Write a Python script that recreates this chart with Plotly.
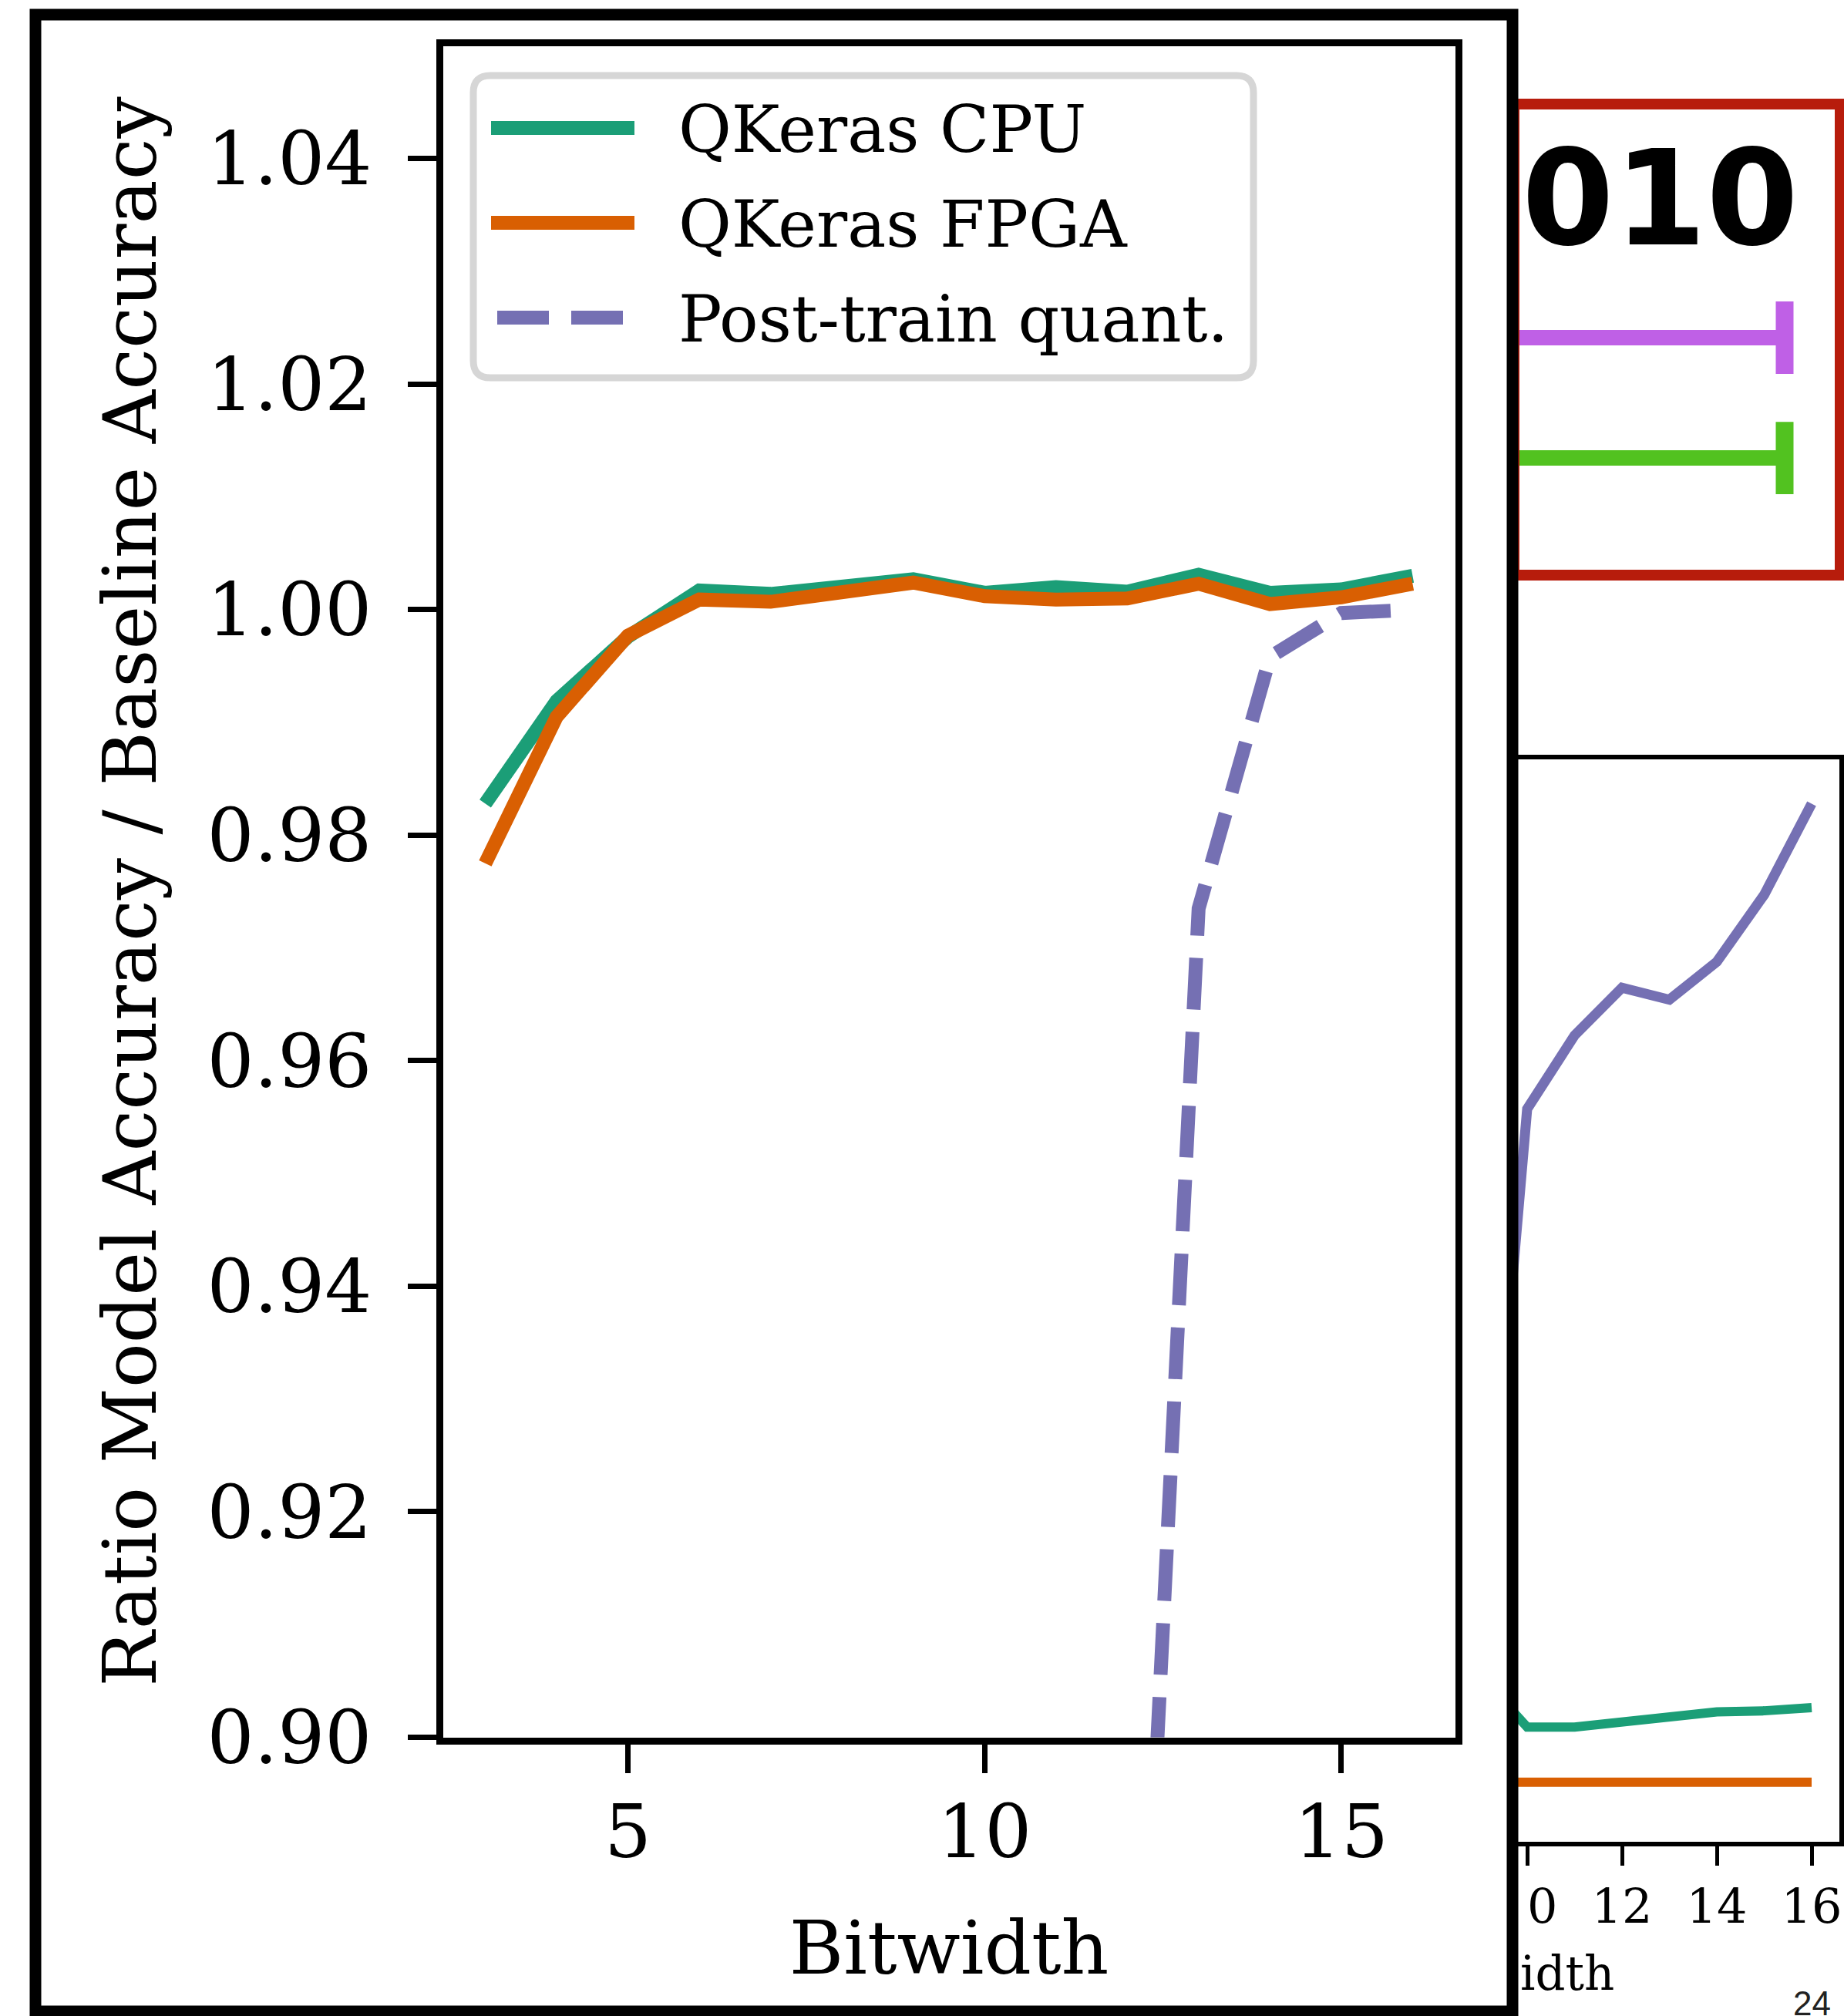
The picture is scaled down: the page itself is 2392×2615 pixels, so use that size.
import plotly.graph_objects as go

W, H = 2392, 2615

# ---------------- main chart data ----------------
bitwidth = [3, 4, 5, 6, 7, 8, 9, 10, 11, 12, 13, 14, 15, 16]
qkeras_cpu = [0.9828, 0.9919, 0.9976, 1.0017, 1.0014, 1.0020, 1.0027,
              1.0015, 1.0020, 1.0016, 1.0031, 1.0015, 1.0018, 1.0030]
qkeras_fpga = [0.9775, 0.9905, 0.9977, 1.0009, 1.0007, 1.0016, 1.0024,
               1.0012, 1.0009, 1.0010, 1.0023, 1.0005, 1.0011, 1.0023]
ptq_bits = [12, 13, 14, 15, 16]
ptq_ratio = [0.846, 0.9735, 0.9958, 0.9997, 1.0000]
x_ticks = [5, 10, 15]
y_ticks = [0.90, 0.92, 0.94, 0.96, 0.98, 1.00, 1.02, 1.04]
y_ticklabels = ["0.90", "0.92", "0.94", "0.96", "0.98", "1.00", "1.02", "1.04"]
series_names = ["QKeras CPU", "QKeras FPGA", "Post-train quant."]

# ---------------- partly hidden chart on the right ----------------
right_bits = [9, 10, 11, 12, 13, 14, 15, 16]
right_purple = [17.1, 67.7, 74.5, 78.9, 77.8, 81.3, 87.5, 95.9]
right_green = [15.4, 10.6, 10.6, 11.0, 11.4, 12.0, 12.1, 12.4]
right_orange = [5.5, 5.5, 5.5, 5.5, 5.5, 5.5, 5.5, 5.5]
right_ticks = [10, 12, 14, 16]
right_ticklabels = ["10", "12", "14", "16"]

# ---------------- boxed bars (red frame) ----------------
bar_rows = [1, 2]
bar_end = [353, 353]

GREEN, ORANGE, PURPLE = "#1b9e77", "#d95f02", "#7570b3"
BAR_COLORS = ["#bf60e6", "#52c220"]
SERIF = "DejaVu Serif"
PTQ_DASH = "0px,8px,67px,21px"


def px(x):
    return x / W


def py(y):
    return 1 - y / H


fig = go.Figure()

main_series = [
    (qkeras_cpu, bitwidth, GREEN, "solid", "cpu"),
    (qkeras_fpga, bitwidth, ORANGE, "solid", "fpga"),
    (ptq_ratio, ptq_bits, PURPLE, PTQ_DASH, "ptq"),
]
# visible data lines
for (vals, xs, col, dash, grp), name in zip(main_series, series_names):
    fig.add_trace(go.Scatter(x=xs, y=vals, mode="lines", name=name, legendgroup=grp,
                             showlegend=False, line=dict(color=col, width=18, dash=dash)))
# legend entries (text only; the long legend keys are drawn as shapes below)
for (vals, xs, col, dash, grp), name in zip(main_series, series_names):
    fig.add_trace(go.Scatter(x=xs, y=vals, mode="lines", name=name, legendgroup=grp,
                             showlegend=True, hoverinfo="skip",
                             line=dict(color=col, width=0)))

# right chart
for vals, col, lw in [(right_purple, PURPLE, 13), (right_green, GREEN, 12),
                      (right_orange, ORANGE, 12)]:
    fig.add_trace(go.Scatter(x=right_bits, y=vals, mode="lines", xaxis="x2", yaxis="y2",
                             line=dict(color=col, width=lw), showlegend=False,
                             hoverinfo="skip"))

# boxed bars
for row, end, col in zip(bar_rows, bar_end, BAR_COLORS):
    fig.add_trace(go.Scatter(x=[0, end], y=[row, row], mode="lines", xaxis="x3", yaxis="y3",
                             line=dict(color=col, width=20), showlegend=False,
                             hoverinfo="skip"))
    fig.add_trace(go.Scatter(x=[end], y=[row], mode="markers", xaxis="x3", yaxis="y3",
                             marker=dict(symbol="line-ns", size=67,
                                         line=dict(color=col, width=23)),
                             showlegend=False, hoverinfo="skip", cliponaxis=False))

axis_common = dict(showgrid=False, zeroline=False, showline=True, linecolor="black",
                   mirror=True, ticks="outside", tickcolor="black")

shapes = []
# legend frame (rounded)
lx0, ly0, lx1, ly1, r = 614, 98, 1626, 490, 22
pts = [
    f"M{px(lx0 + r)},{py(ly0)}", f"L{px(lx1 - r)},{py(ly0)}",
    f"Q{px(lx1)},{py(ly0)} {px(lx1)},{py(ly0 + r)}", f"L{px(lx1)},{py(ly1 - r)}",
    f"Q{px(lx1)},{py(ly1)} {px(lx1 - r)},{py(ly1)}", f"L{px(lx0 + r)},{py(ly1)}",
    f"Q{px(lx0)},{py(ly1)} {px(lx0)},{py(ly1 - r)}", f"L{px(lx0)},{py(ly0 + r)}",
    f"Q{px(lx0)},{py(ly0)} {px(lx0 + r)},{py(ly0)}", "Z",
]
shapes.append(dict(type="path", path=" ".join(pts), xref="paper", yref="paper",
                   line=dict(color="#d6d6d6", width=9), fillcolor="white", layer="above"))
# legend keys
for yy, col, dash in [(166, GREEN, "solid"), (289, ORANGE, "solid"), (412, PURPLE, PTQ_DASH)]:
    shapes.append(dict(type="line", xref="paper", yref="paper",
                       x0=px(637), x1=px(823), y0=py(yy), y1=py(yy),
                       line=dict(color=col, width=18, dash=dash), layer="above"))
# red frame around the partial panel on the right
shapes.append(dict(type="rect", xref="paper", yref="paper",
                   x0=px(1964), x1=px(2387), y0=py(746), y1=py(135),
                   line=dict(color="#b71c0c", width=14), layer="above"))
# white patch (part hidden behind the main panel)
shapes.append(dict(type="rect", xref="paper", yref="paper",
                   x0=px(1900), x1=px(1974), y0=py(2510), y1=py(2430),
                   line=dict(width=0), fillcolor="white", layer="above"))
# black hand-drawn panel border
shapes.append(dict(type="rect", xref="paper", yref="paper",
                   x0=px(46), x1=px(1962), y0=py(2609), y1=py(19),
                   line=dict(color="black", width=15), layer="above"))

annotations = [
    dict(text="010", xref="paper", yref="paper", x=px(1972), y=py(258),
         xanchor="left", yanchor="middle", showarrow=False,
         font=dict(family="DejaVu Sans", size=172, color="black", weight="bold")),
    dict(text="idth", xref="paper", yref="paper", x=px(1970), y=py(2597),
         xanchor="left", yanchor="bottom", showarrow=False,
         font=dict(family=SERIF, size=61, color="black")),
    dict(text="24", xref="paper", yref="paper", x=px(2350), y=py(2572),
         xanchor="center", yanchor="top", showarrow=False,
         font=dict(family="Liberation Sans", size=44, color="#222222")),
]

fig.update_layout(
    template="none",
    width=W, height=H, autosize=False,
    margin=dict(l=0, r=0, t=0, b=0, pad=0),
    paper_bgcolor="white", plot_bgcolor="white",
    showlegend=True,
    legend=dict(x=px(632), y=py(103), xanchor="left", yanchor="top",
                bgcolor="rgba(0,0,0,0)", borderwidth=0, itemwidth=238,
                traceorder="grouped", tracegroupgap=11,
                font=dict(family=SERIF, size=84, color="black")),
    xaxis=dict(domain=[px(574.5), px(1887.5)], range=[2.406, 16.595], anchor="y",
               tickvals=x_ticks, ticklen=37, tickwidth=7, linewidth=9,
               ticklabelstandoff=-6,
               tickfont=dict(family=SERIF, size=96, color="black"),
               title=dict(text="Bitwidth", font=dict(family=SERIF, size=96, color="black")),
               **axis_common),
    yaxis=dict(domain=[py(2253.5), py(59.5)], range=[0.90, 1.05], anchor="x",
               tickvals=y_ticks, ticktext=y_ticklabels, ticklen=37, tickwidth=7, linewidth=9,
               ticklabelstandoff=27,
               tickfont=dict(family=SERIF, size=96, color="black"),
               title=dict(text="Ratio Model Accuracy / Baseline Accuracy", standoff=37,
                          font=dict(family=SERIF, size=96, color="black")),
               **axis_common),
    xaxis2=dict(domain=[px(1962), px(2386)], range=[9.691, 16.585], anchor="y2",
                tickvals=right_ticks, ticktext=right_ticklabels, ticklen=25, tickwidth=5,
                linewidth=6, tickfont=dict(family=SERIF, size=62, color="black"),
                **axis_common),
    yaxis2=dict(domain=[py(2389), py(985)], range=[0, 100], anchor="x2",
                showticklabels=False, showgrid=False, zeroline=False, showline=True,
                linecolor="black", linewidth=6, mirror=True, ticks=""),
    xaxis3=dict(domain=[px(1962), px(2387)], range=[0, 425], anchor="y3", visible=False),
    yaxis3=dict(domain=[py(746), py(135)], range=[2.974, -0.942], anchor="x3", visible=False),
    shapes=shapes,
    annotations=annotations,
)

fig.write_html("out.html", config={"displayModeBar": False},
               post_script="document.body.style.margin='0px';")
